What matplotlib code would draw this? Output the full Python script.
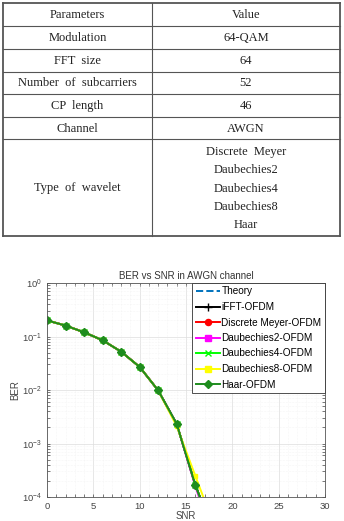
import numpy as np
import matplotlib
matplotlib.use("Agg")
import matplotlib.pyplot as plt
from matplotlib.ticker import LogLocator, NullFormatter

# table content
param_names = ["Parameters", "Modulation", "FFT  size", "Number  of  subcarriers", "CP  length", "Channel"]
param_values = ["Value", "64-QAM", "64", "52", "46", "AWGN"]
wavelet_label = "Type  of  wavelet"
wavelet_types = ["Discrete  Meyer", "Daubechies2", "Daubechies4", "Daubechies8", "Haar"]

# BER curves
snr = [0, 2, 4, 6, 8, 10, 12, 14, 16, 18]
ber_theory = [0.2, 0.16, 0.12, 0.085, 0.052, 0.027, 0.0098, 0.0023, 1.7e-4, 2e-5]
ber_ifft = [0.2, 0.16, 0.12, 0.085, 0.052, 0.027, 0.0098, 0.0023, 1.7e-4, 2e-5]
ber_dmey = [0.2, 0.16, 0.12, 0.085, 0.052, 0.027, 0.0098, 0.0023, 1.7e-4, 2e-5]
ber_db2 = [0.2, 0.16, 0.12, 0.085, 0.052, 0.027, 0.0098, 0.0023, 1.6e-4, 1.5e-5]
ber_db4 = [0.2, 0.16, 0.12, 0.085, 0.052, 0.027, 0.0098, 0.0023, 1.7e-4, 2e-5]
ber_db8 = [0.2, 0.16, 0.12, 0.085, 0.052, 0.027, 0.0098, 0.0021, 2.5e-4, 3e-5]
ber_haar = [0.2, 0.16, 0.12, 0.085, 0.052, 0.027, 0.0098, 0.0023, 1.7e-4, 2e-5]

W, H = 344, 521
fig = plt.figure(figsize=(W / 100, H / 100), dpi=100)

# ---- table drawn in pixel coordinates ----
tab = fig.add_axes([0, 0, 1, 1])
tab.set_xlim(0, W)
tab.set_ylim(H, 0)
tab.axis("off")

x_left, x_mid, x_right = 3, 152, 340
row_edges = [3, 26, 49, 72, 94, 117, 139, 236]
serif = "Liberation Serif"
fs_tab = 9
for i, y in enumerate(row_edges):
    lw = 1.3 if i in (0, len(row_edges) - 1) else 0.8
    tab.plot([x_left, x_right], [y, y], color="#555555", lw=lw)
for x in (x_left, x_right):
    tab.plot([x, x], [row_edges[0], row_edges[-1]], color="#555555", lw=1.3)
tab.plot([x_mid, x_mid], [row_edges[0], row_edges[-1]], color="#555555", lw=0.8)

for i, (name, val) in enumerate(zip(param_names, param_values)):
    yc = (row_edges[i] + row_edges[i + 1]) / 2 + 0.5
    tab.text((x_left + x_mid) / 2, yc, name, ha="center", va="center",
             fontsize=fs_tab, family=serif, color="#222222")
    tab.text((x_mid + x_right) / 2, yc, val, ha="center", va="center",
             fontsize=fs_tab, family=serif, color="#222222")

tab.text((x_left + x_mid) / 2, 188, wavelet_label, ha="center", va="center",
         fontsize=fs_tab, family=serif, color="#222222")
for k, w in enumerate(wavelet_types):
    tab.text((x_mid + x_right) / 2, 152 + k * 18.3, w, ha="center", va="center",
             fontsize=fs_tab, family=serif, color="#222222")

# ---- BER plot ----
ax = fig.add_axes([47 / W, 1 - 497 / H, (325 - 47) / W, (497 - 283) / H])
sans = "Liberation Sans"
lw = 1.4
ax.semilogy(snr, ber_theory, "--", color="#0072BD", lw=lw, label="Theory")
ax.semilogy(snr, ber_ifft, "-+", color="black", lw=lw, ms=5, label="iFFT-OFDM")
ax.semilogy(snr, ber_dmey, "-o", color="red", lw=lw, ms=4, label="Discrete Meyer-OFDM")
ax.semilogy(snr, ber_db2, "-s", color="magenta", lw=lw, ms=3.5, label="Daubechies2-OFDM")
ax.semilogy(snr, ber_db4, "-x", color="#00FF00", lw=lw, ms=4, label="Daubechies4-OFDM")
ax.semilogy(snr, ber_db8, "-s", color="yellow", lw=lw, ms=3.5, label="Daubechies8-OFDM")
ax.semilogy(snr, ber_haar, "-D", color="#1E8C1E", lw=lw, ms=4, label="Haar-OFDM")

ax.set_xlim(0, 30)
ax.set_ylim(1e-4, 1)
ax.set_xticks([0, 5, 10, 15, 20, 25, 30])
ax.yaxis.set_major_locator(LogLocator(base=10, numticks=10))
ax.yaxis.set_minor_locator(LogLocator(base=10, subs=np.arange(2, 10), numticks=10))
ax.yaxis.set_minor_formatter(NullFormatter())
ax.xaxis.set_minor_locator(plt.MultipleLocator(1))
ax.grid(True, which="major", color="#dddddd", lw=0.5)
ax.grid(True, which="minor", color="#eeeeee", lw=0.4, ls=":")
ax.tick_params(labelsize=6.8, colors="#444444", length=2, width=0.5, direction="in",
               which="both", top=True, right=True)
for lab in ax.get_xticklabels() + ax.get_yticklabels():
    lab.set_family(sans)
for s in ax.spines.values():
    s.set_color("#555555")
    s.set_linewidth(0.6)

ax.set_title("BER vs SNR in AWGN channel", fontsize=7, family=sans, color="#333333", pad=3)
ax.set_xlabel("SNR", fontsize=7, family=sans, color="#444444", labelpad=0)
ax.set_ylabel("BER", fontsize=7, family=sans, color="#444444", labelpad=1)

leg = ax.legend(loc="upper right", borderaxespad=0, prop={"family": sans, "size": 7.2},
                fancybox=False, framealpha=1, edgecolor="#333333", handlelength=2.4,
                handletextpad=0.15, labelspacing=0.55, borderpad=0.35, markerscale=1.1)
leg.get_frame().set_linewidth(0.6)

fig.savefig("out.png", dpi=100)
